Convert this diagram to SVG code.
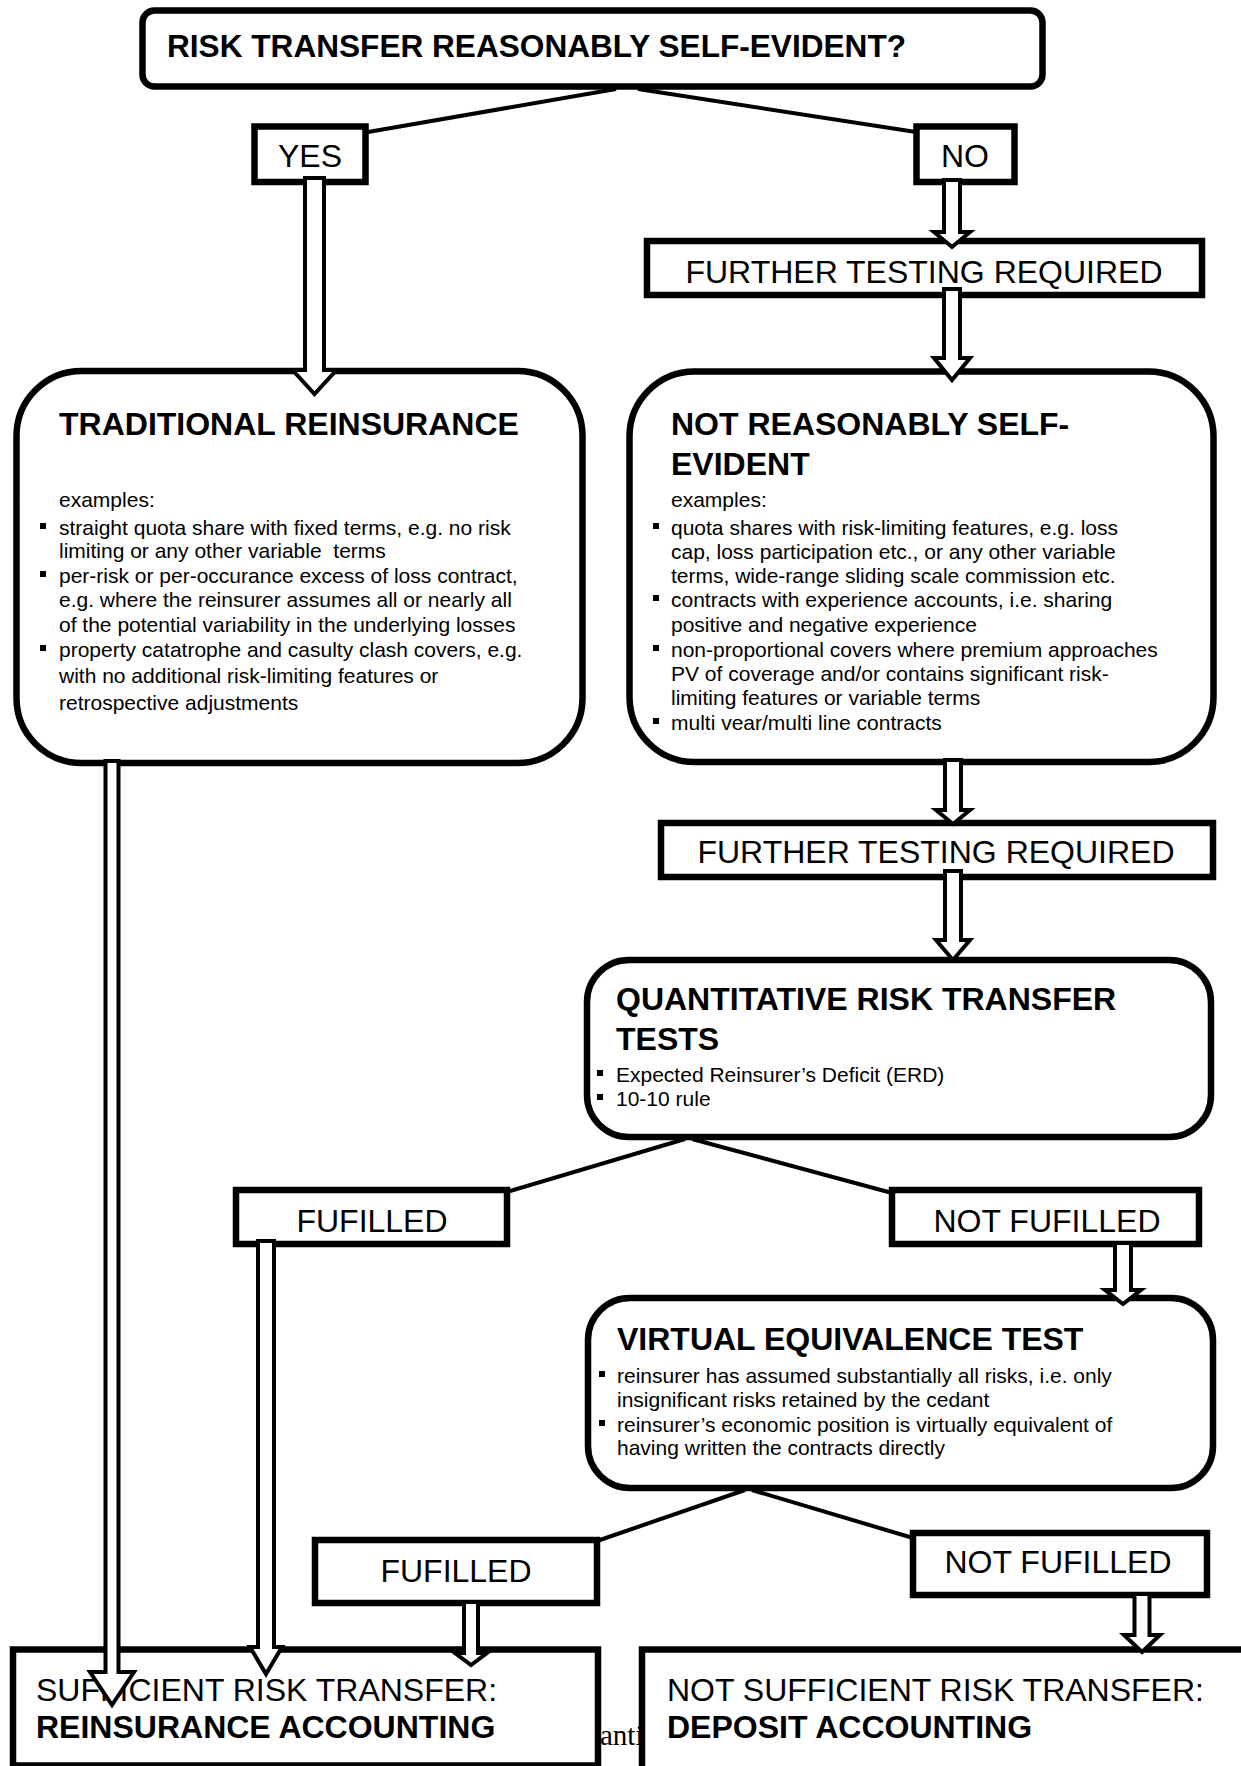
<svg xmlns="http://www.w3.org/2000/svg" width="1241" height="1766" viewBox="0 0 1241 1766">
<style>
.box{fill:#fff;stroke:#000;stroke-width:6.5}
.t{font-family:"Liberation Sans",Arial,sans-serif;fill:#000}
.h{font-size:32px;font-weight:bold}
.l{font-size:32px}
.s{font-size:21px}
.c{text-anchor:middle}
.b{fill:#000}
.arr{fill:#fff;stroke:#000;stroke-width:4;stroke-linejoin:miter}
.ln{stroke:#000;stroke-width:4;fill:none}
</style>
<rect width="1241" height="1766" fill="#fff"/>
<text x="600" y="1745" font-family="'Liberation Serif',serif" font-size="29" fill="#000">anti</text>
<g id="nodes">
<g id="n-top">
<rect class="box" x="142.5" y="10.5" width="900" height="76" rx="12"/>
<text class="t h" x="167" y="57" style="font-size:31.6px">RISK TRANSFER REASONABLY SELF-EVIDENT?</text>
</g>
<g id="n-yes">
<rect class="box" x="254.5" y="126.5" width="111" height="55.5"/>
<text class="t l c" x="310" y="167">YES</text>
</g>
<g id="n-no">
<rect class="box" x="916.5" y="126.5" width="98" height="55.5"/>
<text class="t l c" x="965" y="167">NO</text>
</g>
<g id="n-further1">
<rect class="box" x="647" y="241" width="555" height="54"/>
<text class="t l c" x="924" y="283">FURTHER TESTING REQUIRED</text>
</g>
<g id="n-traditional">
<rect class="box" x="16.5" y="371" width="566" height="392" rx="65"/>
<text class="t h" x="59" y="435">TRADITIONAL REINSURANCE</text>
<g class="t s">
<text x="59" y="507">examples:</text>
<text x="59" y="535">straight quota share with fixed terms, e.g. no risk</text>
<text x="59" y="558">limiting or any other variable&#160; terms</text>
<text x="59" y="583">per-risk or per-occurance excess of loss contract,</text>
<text x="59" y="607">e.g. where the reinsurer assumes all or nearly all</text>
<text x="59" y="632">of the potential variability in the underlying losses</text>
<text x="59" y="657">property catatrophe and casulty clash covers, e.g.</text>
<text x="59" y="683">with no additional risk-limiting features or</text>
<text x="59" y="710">retrospective adjustments</text>
</g>
<rect class="b" x="40" y="523" width="6" height="6"/>
<rect class="b" x="40" y="571" width="6" height="6"/>
<rect class="b" x="40" y="645" width="6" height="6"/>
</g>
<g id="n-notself">
<rect class="box" x="629.5" y="371.5" width="584" height="390.5" rx="65"/>
<text class="t h" x="671" y="435">NOT REASONABLY SELF-</text>
<text class="t h" x="671" y="475">EVIDENT</text>
<g class="t s">
<text x="671" y="507">examples:</text>
<text x="671" y="535">quota shares with risk-limiting features, e.g. loss</text>
<text x="671" y="559">cap, loss participation etc., or any other variable</text>
<text x="671" y="583">terms, wide-range sliding scale commission etc.</text>
<text x="671" y="607">contracts with experience accounts, i.e. sharing</text>
<text x="671" y="632">positive and negative experience</text>
<text x="671" y="657">non-proportional covers where premium approaches</text>
<text x="671" y="681">PV of coverage and/or contains significant risk-</text>
<text x="671" y="705">limiting features or variable terms</text>
<text x="671" y="730">multi vear/multi line contracts</text>
</g>
<rect class="b" x="653" y="523" width="6" height="6"/>
<rect class="b" x="653" y="595" width="6" height="6"/>
<rect class="b" x="653" y="645" width="6" height="6"/>
<rect class="b" x="653" y="718" width="6" height="6"/>
</g>
<g id="n-further2">
<rect class="box" x="661" y="823" width="552" height="54"/>
<text class="t l c" x="936" y="863">FURTHER TESTING REQUIRED</text>
</g>
<g id="n-quant">
<rect class="box" x="587" y="960" width="624" height="177" rx="42"/>
<text class="t h" x="616" y="1010">QUANTITATIVE RISK TRANSFER</text>
<text class="t h" x="616" y="1050">TESTS</text>
<text class="t s" x="616" y="1082">Expected Reinsurer’s Deficit (ERD)</text>
<text class="t s" x="616" y="1106">10-10 rule</text>
<rect class="b" x="597" y="1070" width="6" height="6"/>
<rect class="b" x="597" y="1094" width="6" height="6"/>
</g>
<g id="n-fulfilled1">
<rect class="box" x="236" y="1190" width="271" height="54"/>
<text class="t l c" x="372" y="1232">FUFILLED</text>
</g>
<g id="n-notfulfilled1">
<rect class="box" x="892" y="1190" width="307" height="54"/>
<text class="t l c" x="1047" y="1232">NOT FUFILLED</text>
</g>
<g id="n-virtual">
<rect class="box" x="588" y="1298" width="625" height="190" rx="42"/>
<text class="t h" x="617" y="1350">VIRTUAL EQUIVALENCE TEST</text>
<g class="t s">
<text x="617" y="1383">reinsurer has assumed substantially all risks, i.e. only</text>
<text x="617" y="1407">insignificant risks retained by the cedant</text>
<text x="617" y="1432">reinsurer’s economic position is virtually equivalent of</text>
<text x="617" y="1455">having written the contracts directly</text>
</g>
<rect class="b" x="599" y="1371" width="6" height="6"/>
<rect class="b" x="599" y="1420" width="6" height="6"/>
</g>
<g id="n-fulfilled2">
<rect class="box" x="315" y="1540" width="282" height="63"/>
<text class="t l c" x="456" y="1582">FUFILLED</text>
</g>
<g id="n-notfulfilled2">
<rect class="box" x="913" y="1533" width="294" height="62"/>
<text class="t l c" x="1058" y="1573">NOT FUFILLED</text>
</g>
<g id="n-reinsurance-accounting">
<rect class="box" x="13" y="1649.5" width="585" height="116"/>
<text class="t l" x="36" y="1701">SUFFICIENT RISK TRANSFER:</text>
<text class="t h" x="36" y="1738">REINSURANCE ACCOUNTING</text>
</g>
<g id="n-deposit-accounting">
<rect class="box" x="642" y="1649.5" width="620" height="130"/>
<text class="t l" x="667" y="1701">NOT SUFFICIENT RISK TRANSFER:</text>
<text class="t h" x="667" y="1738">DEPOSIT ACCOUNTING</text>
</g>
</g>
<g id="connectors">
<line class="ln" x1="616" y1="89" x2="368" y2="132"/>
<line class="ln" x1="638" y1="89" x2="916" y2="132"/>
<line class="ln" x1="685" y1="1139" x2="507" y2="1192"/>
<line class="ln" x1="692" y1="1139" x2="892" y2="1193"/>
<line class="ln" x1="745" y1="1490" x2="597" y2="1541"/>
<line class="ln" x1="752" y1="1490" x2="913" y2="1538"/>
<path class="arr" d="M305,178 H324 V370 H336.5 L314.5,394 L292.5,370 H305 Z"/>
<path class="arr" d="M944,180 H960 V232 H970 L952,247 L934,232 H944 Z"/>
<path class="arr" d="M944,289 H960 V358 H970 L952,380 L934,358 H944 Z"/>
<path class="arr" d="M945,760 H961 V810 H970 L953,824 L936,810 H945 Z"/>
<path class="arr" d="M945,871 H961 V940 H970 L953,960 L936,940 H945 Z"/>
<path class="arr" d="M1115,1243 H1131 V1290 H1141 L1123,1304 L1105,1290 H1115 Z"/>
<path class="arr" d="M105.5,761 H118.5 V1672 H134 L112,1705 L90,1672 H105.5 Z"/>
<path class="arr" d="M258,1241 H274 V1647 H282 L266,1674 L250,1647 H258 Z"/>
<path class="arr" d="M464,1602 H478 V1653 H487 L471,1665 L455,1653 H464 Z"/>
<path class="arr" d="M1134.5,1594 H1149.5 V1635 H1160 L1142,1652 L1124,1635 H1134.5 Z"/>
</g>
</svg>
